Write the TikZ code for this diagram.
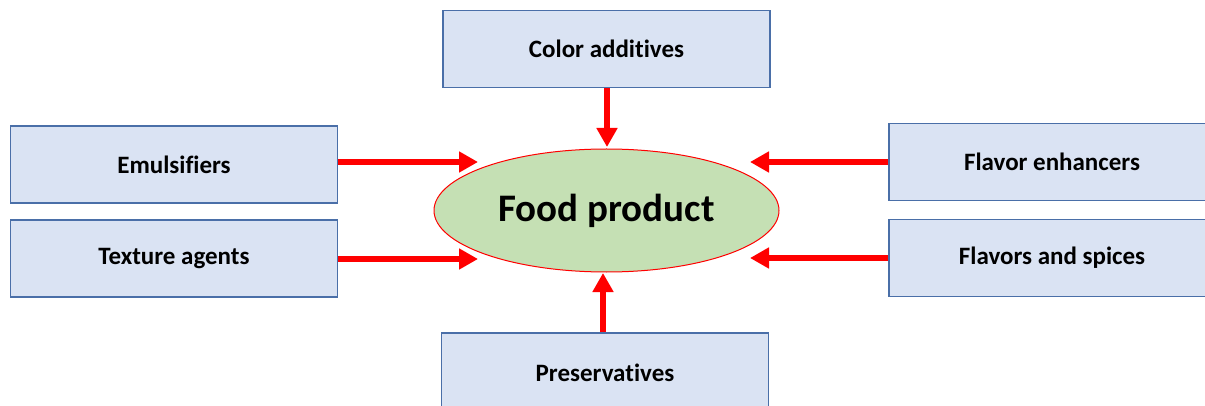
\documentclass[tikz,border=0pt]{standalone}
\usepackage{fontspec}
\setmainfont{Carlito}[Ligatures={NoCommon}]
\usetikzlibrary{arrows.meta,shapes.geometric}
\definecolor{boxfill}{HTML}{DAE3F3}
\definecolor{boxdraw}{HTML}{4A6FA8}
\definecolor{ellfill}{HTML}{C5E0B4}
\definecolor{arrred}{HTML}{FF0000}
\tikzset{
  lbl/.style={font=\bfseries\fontsize{25}{30}\selectfont},
  factor/.style={draw=boxdraw, line width=1.1pt, fill=boxfill, minimum width=327pt, minimum height=77pt, inner sep=0pt, lbl},
  prod/.style={ellipse, draw=arrred, line width=1pt, fill=ellfill, minimum width=345pt, minimum height=123pt, inner sep=0pt, font=\bfseries\fontsize{39}{46}\selectfont},
  arr/.style={draw=arrred, line width=6pt, -{Triangle[length=19pt,width=20pt]}}
}
\begin{document}
\begin{tikzpicture}[x=1pt,y=-1pt]
\useasboundingbox (0,0) rectangle (1205,406);
\node[prod] (food) at (606.5,210.5) {Food product};
\node[factor] (color) at (606.5,49) {Color additives};
\node[factor] (emul) at (174,164.5) {Emulsifiers};
\node[factor] (text) at (174,258.5) {Texture agents};
\node[factor, minimum width=330pt] (flen) at (1054,162) {};
\node[lbl] (flenl) at (1052,162) {Flavor enhancers};
\node[factor, minimum width=330pt] (flsp) at (1054,258) {};
\node[lbl] (flspl) at (1052,258) {Flavors and spices};
\node[factor, minimum height=80pt] (pres) at (605,373) {};
\node[lbl] (presl) at (605,373) {Preservatives};
\coordinate (t1) at (478,162);
\coordinate (t2) at (478,259);
\coordinate (t3) at (750,162);
\coordinate (t4) at (750,258);
\coordinate (t5) at (607,147);
\coordinate (t6) at (603,273);
\draw[arr] (emul.east |- t1) -- (t1);
\draw[arr] (text.east |- t2) -- (t2);
\draw[arr] (flen.west |- t3) -- (t3);
\draw[arr] (flsp.west |- t4) -- (t4);
\draw[arr] (color.south -| t5) -- (t5);
\draw[arr] (pres.north -| t6) -- (t6);
\end{tikzpicture}
\end{document}
